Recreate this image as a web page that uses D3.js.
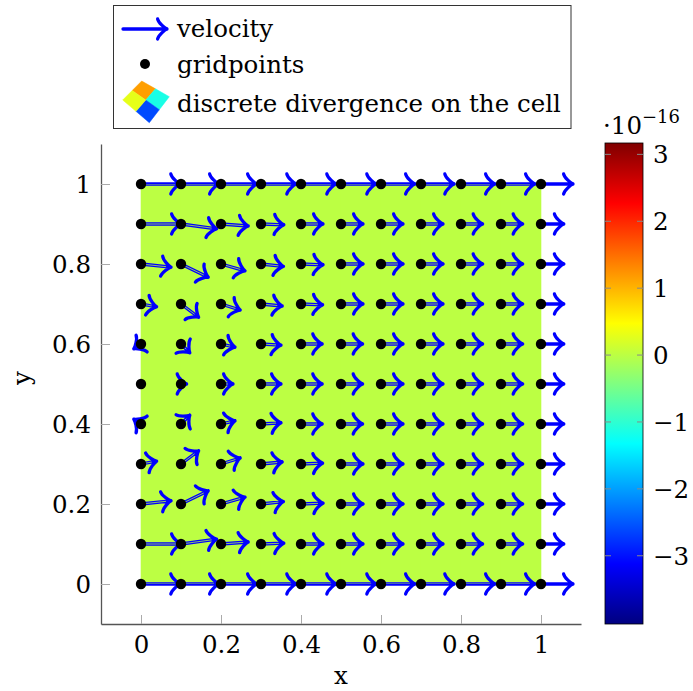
<!DOCTYPE html>
<html>
<head>
<meta charset="utf-8">
<script src="https://cdn.jsdelivr.net/npm/d3@7"></script>
<style>
  html, body { margin: 0; padding: 0; background: #fff; }
  svg { display: block; }
  text { font-family: "DejaVu Serif", "Liberation Serif", serif; fill: #000; }
</style>
</head>
<body>
<svg id="chart" width="693" height="691"></svg>
<script>
// ---- data -------------------------------------------------------------
const gridX = [0, 0.1, 0.2, 0.3, 0.4, 0.5, 0.6, 0.7, 0.8, 0.9, 1];
const gridY = [0, 0.1, 0.2, 0.3, 0.4, 0.5, 0.6, 0.7, 0.8, 0.9, 1];

// velocity components at the grid points, velU[j][i] at (gridX[i], gridY[j])
const velU = [
  [0.098, 0.095, 0.090, 0.088, 0.088, 0.088, 0.085, 0.083, 0.085, 0.085, 0.080],
  [0.100, 0.089, 0.068, 0.057, 0.055, 0.055, 0.055, 0.055, 0.054, 0.054, 0.057],
  [0.075, 0.068, 0.060, 0.056, 0.055, 0.055, 0.055, 0.055, 0.054, 0.054, 0.057],
  [0.039, 0.044, 0.048, 0.053, 0.054, 0.055, 0.055, 0.055, 0.054, 0.054, 0.057],
  [-0.018, 0.022, 0.035, 0.050, 0.053, 0.054, 0.055, 0.055, 0.054, 0.054, 0.057],
  [0.000, 0.014, 0.030, 0.050, 0.053, 0.054, 0.055, 0.055, 0.054, 0.054, 0.057],
  [-0.018, 0.022, 0.035, 0.050, 0.053, 0.054, 0.055, 0.055, 0.054, 0.054, 0.057],
  [0.039, 0.044, 0.048, 0.053, 0.054, 0.055, 0.055, 0.055, 0.054, 0.054, 0.057],
  [0.075, 0.068, 0.060, 0.056, 0.055, 0.055, 0.055, 0.055, 0.054, 0.054, 0.057],
  [0.100, 0.089, 0.068, 0.057, 0.055, 0.055, 0.055, 0.055, 0.054, 0.054, 0.057],
  [0.098, 0.095, 0.090, 0.088, 0.088, 0.088, 0.085, 0.083, 0.085, 0.085, 0.080]
];
const velV = [
  [0, 0, 0, 0, 0, 0, 0, 0, 0, 0, 0],
  [0, 0.012, 0.005, 0.002, 0, 0, 0, 0, 0, 0, 0],
  [0.008, 0.033, 0.017, 0.006, 0.002, 0, 0, 0, 0, 0, 0],
  [0.007, 0.033, 0.015, 0.005, 0.002, 0, 0, 0, 0, 0, 0],
  [0.012, 0.022, 0.008, 0.003, 0, 0, 0, 0, 0, 0, 0],
  [0, 0, 0, 0, 0, 0, 0, 0, 0, 0, 0],
  [-0.012, -0.022, -0.008, -0.003, 0, 0, 0, 0, 0, 0, 0],
  [-0.007, -0.033, -0.015, -0.005, -0.002, 0, 0, 0, 0, 0, 0],
  [-0.008, -0.033, -0.017, -0.006, -0.002, 0, 0, 0, 0, 0, 0],
  [0, -0.012, -0.005, -0.002, 0, 0, 0, 0, 0, 0, 0],
  [0, 0, 0, 0, 0, 0, 0, 0, 0, 0, 0]
];

// discrete divergence per cell, divergence[j][i] for cell [x_i,x_{i+1}]x[y_j,y_{j+1}]
const divergence = [
  [0, 0, 0, 0, 0, 0, 0, 0, 0, 0],
  [0, 0, 0, 0, 0, 0, 0, 0, 0, 0],
  [0, 0, 0, 0, 0, 0, 0, 0, 0, 0],
  [0, 0, 0, 0, 0, 0, 0, 0, 0, 0],
  [0, 0, 0, 0, 0, 0, 0, 0, 0, 0],
  [0, 0, 0, 0, 0, 0, 0, 0, 0, 0],
  [0, 0, 0, 0, 0, 0, 0, 0, 0, 0],
  [0, 0, 0, 0, 0, 0, 0, 0, 0, 0],
  [0, 0, 0, 0, 0, 0, 0, 0, 0, 0],
  [0, 0, 0, 0, 0, 0, 0, 0, 0, 0]
];

const colorExponent = -16;                 // colour bar values are scaled by 10^-16
const colorRange = [-4.02, 3.17];          // colour bar limits (x 10^-16)
const colorTicks = [-3, -2, -1, 0, 1, 2, 3];
const axisTicks = [0, 0.2, 0.4, 0.6, 0.8, 1];
const legendLabels = ["velocity", "gridpoints", "discrete divergence on the cell"];
const legendPatchValues = [1.15, -1.15, -2.6, 0.3]; // top, right, bottom, left facets (x 10^-16)

// ---- helpers ----------------------------------------------------------
const FS = 24.5; // text size
function jet(t) {
  const c = v => Math.max(0, Math.min(1, v));
  const r = c(Math.min(4 * t - 1.5, -4 * t + 4.5));
  const g = c(Math.min(4 * t - 0.5, -4 * t + 3.5));
  const b = c(Math.min(4 * t + 0.5, -4 * t + 2.5));
  return d3.rgb(r * 255, g * 255, b * 255).formatHex();
}
const colorFrac = d3.scaleLinear().domain(colorRange).range([0, 1]).clamp(true);
const colorOf = v => jet(colorFrac(v));
const fmtMinus = v => (v < 0 ? "\u2212" + Math.abs(v) : String(v));

// "to"-style arrow tip ending at (tx,ty) pointing along unit vector (dx,dy)
function tipPath(tx, ty, dx, dy, a) {
  const px = -dy, py = dx;
  const P = (s, t) => [tx + s * a * dx + t * a * px, ty + s * a * dy + t * a * py];
  const arm = sgn => {
    const p0 = P(-3.75, 4 * sgn), c1 = P(-3.5, 2.5 * sgn), c2 = P(-0.75, 0.25 * sgn), p1 = P(0, 0);
    return `M${p0}C${c1} ${c2} ${p1}`;
  };
  return arm(1) + arm(-1);
}

// ---- layout -----------------------------------------------------------
const svg = d3.select("#chart");
const x = d3.scaleLinear().domain([-0.1, 1.1]).range([101, 581]);
const y = d3.scaleLinear().domain([-0.1, 1.1]).range([624, 144]);
const cbar = { x0: 605, x1: 643 };
const cy = d3.scaleLinear().domain(colorRange).range([624, 143]);

const defs = svg.append("defs");
defs.append("clipPath").attr("id", "cellClip").append("rect")
  .attr("x", x(0)).attr("y", y(1))
  .attr("width", x(1) - x(0)).attr("height", y(0) - y(1));

// ---- divergence cells -------------------------------------------------
const cells = [];
divergence.forEach((row, j) => row.forEach((val, i) => cells.push({ i, j, val })));
svg.append("g").selectAll("rect").data(cells).join("rect")
  .attr("x", d => x(gridX[d.i]))
  .attr("y", d => y(gridY[d.j + 1]))
  .attr("width", d => x(gridX[d.i + 1]) - x(gridX[d.i]))
  .attr("height", d => y(gridY[d.j]) - y(gridY[d.j + 1]))
  .attr("fill", d => colorOf(d.val / Math.pow(10, colorExponent)))
  .attr("stroke", d => colorOf(d.val / Math.pow(10, colorExponent)))
  .attr("stroke-width", 0.6);

// ---- axes -------------------------------------------------------------
const fmtTick = d => String(+d.toFixed(1));
const gx = svg.append("g").attr("transform", `translate(0,${y(-0.1)})`)
  .call(d3.axisBottom(x).tickValues(axisTicks).tickFormat(fmtTick)
    .tickSizeInner(-9).tickSizeOuter(0).tickPadding(11));
const gy = svg.append("g").attr("transform", `translate(${x(-0.1)},0)`)
  .call(d3.axisLeft(y).tickValues(axisTicks).tickFormat(fmtTick)
    .tickSizeInner(-9).tickSizeOuter(0).tickPadding(10));
[gx, gy].forEach(g => {
  g.attr("font-family", null).attr("font-size", null);
  g.select(".domain").attr("stroke", "#555").attr("stroke-width", 1.3);
  g.selectAll(".tick line").attr("stroke", "#aaa").attr("stroke-width", 1);
  g.selectAll(".tick text").attr("font-size", FS);
});
gx.selectAll(".tick text").attr("dy", "0.73em");
gy.selectAll(".tick text").attr("dy", "0.36em");

svg.append("text").attr("x", x(0.5)).attr("y", 684).attr("text-anchor", "middle")
  .attr("font-size", FS).text("x");
svg.append("text").attr("transform", "translate(30,378) rotate(-90)")
  .attr("text-anchor", "middle").attr("font-size", FS).text("y");

// ---- velocity arrows --------------------------------------------------
const arrows = [];
velU.forEach((row, j) => row.forEach((u, i) => {
  const v = velV[j][i];
  const x0 = x(gridX[i]), y0 = y(gridY[j]);
  const x1 = x(gridX[i] + u), y1 = y(gridY[j] + v);
  const len = Math.hypot(x1 - x0, y1 - y0);
  if (len > 0.5) arrows.push({ x0, y0, x1, y1, dx: (x1 - x0) / len, dy: (y1 - y0) / len, len });
}));

const arrowG = svg.append("g").attr("fill", "none").attr("stroke", "#0000ff")
  .attr("stroke-width", 3.3).attr("stroke-linecap", "round").attr("stroke-linejoin", "round");
arrowG.selectAll("path").data(arrows).join("path")
  .attr("d", d => `M${d.x0},${d.y0}L${d.x1},${d.y1}` + tipPath(d.x1, d.y1, d.dx, d.dy, 2.5));

// light core of the doubled shafts inside the cell area
const coreColor = colorOf(0);
svg.append("g").attr("clip-path", "url(#cellClip)")
  .selectAll("line").data(arrows.filter(d => d.len > 8)).join("line")
  .attr("x1", d => d.x0).attr("y1", d => d.y0)
  .attr("x2", d => d.x1 - d.dx * 5).attr("y2", d => d.y1 - d.dy * 5)
  .attr("stroke", coreColor).attr("stroke-width", 0.9).attr("stroke-opacity", 0.85);

// ---- grid points ------------------------------------------------------
const points = [];
gridY.forEach(gy0 => gridX.forEach(gx0 => points.push([gx0, gy0])));
svg.append("g").selectAll("circle").data(points).join("circle")
  .attr("cx", d => x(d[0])).attr("cy", d => y(d[1])).attr("r", 5.2).attr("fill", "#000");

// ---- colour bar -------------------------------------------------------
const grad = defs.append("linearGradient").attr("id", "jetGrad")
  .attr("x1", 0).attr("y1", 1).attr("x2", 0).attr("y2", 0);
d3.range(0, 1.0001, 0.0625).forEach(t =>
  grad.append("stop").attr("offset", t).attr("stop-color", jet(t)));
svg.append("rect").attr("x", cbar.x0).attr("y", cy(colorRange[1]))
  .attr("width", cbar.x1 - cbar.x0).attr("height", cy(colorRange[0]) - cy(colorRange[1]))
  .attr("fill", "url(#jetGrad)").attr("stroke", "#000").attr("stroke-width", 0.8);
const cTicks = svg.append("g").selectAll("g").data(colorTicks).join("g");
cTicks.append("line").attr("x1", cbar.x0).attr("x2", cbar.x0 + 6)
  .attr("y1", d => cy(d)).attr("y2", d => cy(d)).attr("stroke", "#888").attr("stroke-width", 1);
cTicks.append("line").attr("x1", cbar.x1 - 6).attr("x2", cbar.x1)
  .attr("y1", d => cy(d)).attr("y2", d => cy(d)).attr("stroke", "#888").attr("stroke-width", 1);
cTicks.append("text").attr("x", cbar.x1 + 10).attr("y", d => cy(d) + 9)
  .attr("font-size", FS).text(fmtMinus);
const expo = svg.append("text").attr("x", 603).attr("y", 134).attr("font-size", FS);
expo.append("tspan").text("\u00b710");
expo.append("tspan").attr("dy", -11).attr("font-size", 18).text(fmtMinus(colorExponent));

// ---- legend -----------------------------------------------------------
const leg = svg.append("g");
leg.append("rect").attr("x", 113.5).attr("y", 5.5).attr("width", 457.5).attr("height", 123)
  .attr("fill", "#fff").attr("stroke", "#333").attr("stroke-width", 1);
leg.append("path").attr("fill", "none").attr("stroke", "#0000ff").attr("stroke-width", 3.3)
  .attr("stroke-linecap", "round").attr("stroke-linejoin", "round")
  .attr("d", "M123,29L167,29" + tipPath(167, 29, 1, 0, 2.5));
leg.append("circle").attr("cx", 145).attr("cy", 64).attr("r", 5).attr("fill", "#000");
// small 2x2 facet glyph for the cell colouring
const T = [141.7, 81], R = [169.3, 96.7], B = [149.3, 122.7], L = [122.7, 100];
const mid = (p, q) => [(p[0] + q[0]) / 2, (p[1] + q[1]) / 2];
const TR = mid(T, R), RB = mid(R, B), BL = mid(B, L), LT = mid(L, T);
const C = [(TR[0] + RB[0] + BL[0] + LT[0]) / 4, (TR[1] + RB[1] + BL[1] + LT[1]) / 4];
const facets = [[T, TR, C, LT], [TR, R, RB, C], [C, RB, B, BL], [LT, C, BL, L]];
leg.selectAll("path.facet").data(facets).join("path").attr("class", "facet")
  .attr("d", d => "M" + d.join("L") + "Z")
  .attr("fill", (d, k) => colorOf(legendPatchValues[k]))
  .attr("stroke", (d, k) => colorOf(legendPatchValues[k])).attr("stroke-width", 0.5);
leg.selectAll("text").data(legendLabels).join("text")
  .attr("x", 177).attr("y", (d, k) => [37, 73, 112][k])
  .attr("font-size", FS).text(d => d);
</script>
</body>
</html>
